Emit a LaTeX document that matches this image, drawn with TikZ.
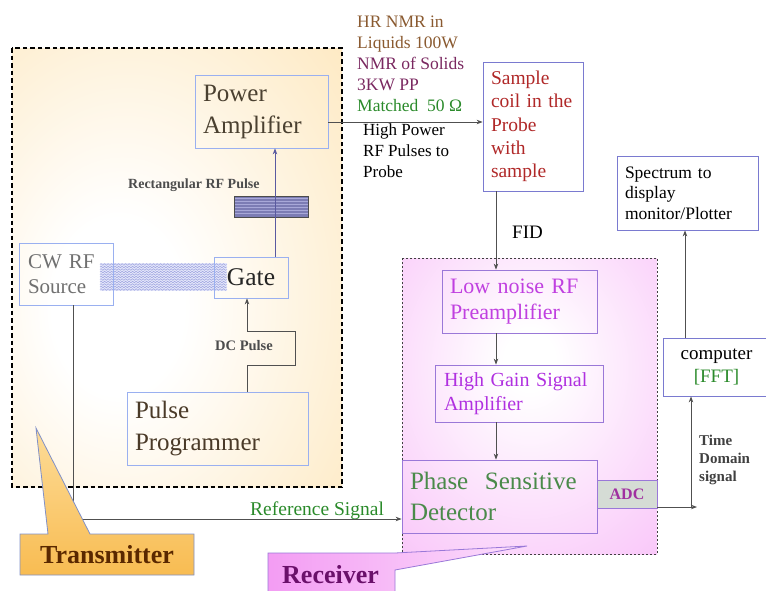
\documentclass[tikz,border=0pt]{standalone}
\usepackage{fontspec}
\setmainfont{Liberation Serif}
\usetikzlibrary{arrows.meta,decorations.pathmorphing,calc}

\definecolor{txorange}{HTML}{FDDFA6}
\definecolor{rxpink}{HTML}{F8BEF8}
\definecolor{bluebox}{HTML}{9AB0F0}
\definecolor{purplebox}{HTML}{9A78D8}
\definecolor{probebox}{HTML}{7A7AD0}
\definecolor{linegray}{HTML}{505050}
\definecolor{padark}{HTML}{4A4030}
\definecolor{cwgray}{HTML}{707070}
\definecolor{ppbrown}{HTML}{4A3A28}
\definecolor{notebrown}{HTML}{8A5A30}
\definecolor{notepurple}{HTML}{7A2860}
\definecolor{notegreen}{HTML}{2A8A2A}
\definecolor{samplered}{HTML}{B02828}
\definecolor{lnmag}{HTML}{C040E0}
\definecolor{hgmag}{HTML}{B030E0}
\definecolor{psdgreen}{HTML}{4A8A4A}
\definecolor{adcpurple}{HTML}{A030A0}
\definecolor{adcfill}{HTML}{D5DCD5}
\definecolor{txtext}{HTML}{5A2800}
\definecolor{rxtext}{HTML}{6A106A}
\definecolor{pulsefill}{HTML}{7C7CB4}
\definecolor{pulseline}{HTML}{A8A8D8}
\definecolor{wavecol}{HTML}{9CA2E0}
\definecolor{wavefill}{HTML}{E6E8FA}
\definecolor{gateline}{HTML}{5A5AA0}
\definecolor{calloutborder}{HTML}{8090C8}
\definecolor{txcalltop}{HTML}{FDDC98}
\definecolor{txcallbot}{HTML}{F8BC52}
\definecolor{rxcallleft}{HTML}{F39CF3}
\definecolor{rxcallright}{HTML}{FCE0FC}

\pgfdeclareradialshading{txshade}{\pgfpoint{-10bp}{-5bp}}{color(0bp)=(white); color(10bp)=(white); color(58bp)=(txorange); color(100bp)=(txorange)}
\pgfdeclareradialshading{rxshade}{\pgfpoint{0bp}{8bp}}{color(0bp)=(white); color(5bp)=(white); color(45bp)=(rxpink); color(100bp)=(rxpink)}

\newcommand\myfs[2]{\fontsize{#1}{#2}\selectfont}

\tikzset{
  box/.style={draw, line width=0.8pt, inner ysep=0pt, align=left},
  cbox/.style={draw, line width=0.8pt, inner sep=0pt, align=center},
  lbl/.style={inner sep=0pt, align=left},
  arr/.style={draw=linegray, line width=0.8pt, -{Stealth[length=6pt,width=4.5pt]}},
  wave/.style={draw=wavecol, line width=0.45pt, decorate, decoration={snake, amplitude=0.9pt, segment length=3.5pt}},
}

\begin{document}
\begin{tikzpicture}[x=1pt,y=-1pt]
\useasboundingbox (0,0) rectangle (766,590);

% regions
\path[shading=txshade] (12,48) rectangle (342,487);
\draw[line width=1.3pt, dash pattern=on 4.5pt off 3pt] (12,48) rectangle (342,487);
\path[shading=rxshade] (402,258) rectangle (657,554);
\draw[line width=0.6pt, draw=black!75, dash pattern=on 2pt off 2pt] (402,258) rectangle (657,554);

% wavy CW band
\fill[wavefill] (100,263) rectangle (227,291);
\foreach \yy in {264.5,267,...,290} {\draw[wave] (100,\yy) -- (227,\yy);}

% rectangular RF pulse
\fill[pulsefill] (234,196) rectangle (308,217);
\foreach \yy in {198.5,201.5,...,215} {\draw[pulseline, line width=0.6pt] (234,\yy) -- (308,\yy);}
\draw[black!70, line width=0.6pt] (234,196) rectangle (308,217);

% boxes
\node[box, draw=bluebox, minimum width=133pt, minimum height=73pt, text width=117pt, inner xsep=8pt, font=\myfs{25}{32}, text=padark] (PA) at (261.5,111.5) {Power\\Amplifier};
\node[box, draw=probebox, minimum width=100pt, minimum height=129pt, text width=84pt, inner xsep=8pt, font=\myfs{19.5}{23.3}, text=samplered] (Sample) at (533,126.5) {Sample\\coil in the\\Probe\\with\\sample};
\node[box, draw=bluebox, minimum width=94pt, minimum height=62pt, text width=76pt, inner xsep=9pt, font=\myfs{21}{25}, text=cwgray] (CW) at (66,274) {CW RF\\Source};
\node[cbox, draw=bluebox, minimum width=74pt, minimum height=41pt, font=\myfs{25.5}{30}, text=black!85] (Gate) at (251,277.5) {Gate};
\node[box, draw=bluebox, minimum width=181pt, minimum height=73pt, text width=165pt, inner xsep=8pt, font=\myfs{25}{32}, text=ppbrown] (PP) at (217.5,428.5) {Pulse\\Programmer};
\node[box, draw=purplebox, minimum width=155pt, minimum height=63pt, text width=139pt, inner xsep=8pt, font=\myfs{22}{26}, text=lnmag] (LN) at (519.5,301.5) {Low noise RF\\Preamplifier};
\node[box, draw=purplebox, minimum width=168pt, minimum height=57pt, text width=150pt, inner xsep=9pt, font=\myfs{20}{23.5}, text=hgmag] (HG) at (519,393.5) {High Gain Signal\\Amplifier};
\node[box, draw=purplebox, minimum width=195pt, minimum height=73pt, text width=179pt, inner xsep=8pt, font=\myfs{25}{31}, text=psdgreen] (PSD) at (499.5,496.5) {Phase\ \ Sensitive\\Detector};
\node[cbox, draw=purplebox, fill=adcfill, minimum width=60pt, minimum height=28pt, font=\bfseries\myfs{16}{18}, text=adcpurple] (ADC) at (627,494) {ADC};
\node[cbox, draw=probebox, minimum width=107pt, minimum height=58pt, font=\myfs{19}{23}] (Comp) at (716.5,367) {computer\\\textcolor{notegreen}{[FFT]}};
\node[box, draw=probebox, minimum width=141pt, minimum height=74pt, text width=125pt, inner xsep=8pt, font=\myfs{17.5}{20.5}] (Spec) at (687.5,193) {Spectrum to\\display\\monitor/Plotter};

% labels
\node[lbl, anchor=north west, font=\myfs{17.5}{21}] (notes) at (357,16.1) {\textcolor{notebrown}{HR NMR in}\\\textcolor{notebrown}{Liquids 100W}\\\textcolor{notepurple}{NMR of Solids}\\\textcolor{notepurple}{3KW PP}\\\textcolor{notegreen}{Matched\ \ 50 Ω}};
\node[lbl, anchor=north west, font=\myfs{17}{21}] (hp) at (363,123.5) {High Power\\RF Pulses to\\Probe};
\node[lbl, anchor=base west, font=\myfs{19}{22}] (fid) at (512,238) {FID};
\node[lbl, anchor=base west, font=\bfseries\myfs{14}{16}, text=black!70] (rect) at (128,188) {Rectangular RF Pulse};
\node[lbl, anchor=base west, font=\bfseries\myfs{14.5}{16}, text=black!70] (dc) at (215,350) {DC Pulse};
\node[lbl, anchor=base west, font=\myfs{19.5}{22}, text=notegreen] (ref) at (250,515) {Reference Signal};
\node[lbl, anchor=north west, font=\bfseries\myfs{15}{18}, text=black!75] (td) at (699,435) {Time\\Domain\\signal};

% connectors
\coordinate (colx) at (496,0);
\coordinate (gatex) at (275,0);
\coordinate (dcA) at (247,365);
\coordinate (dcB) at (295,365);
\coordinate (dcC) at (295,331);
\coordinate (dcD) at (247,331);
\coordinate (refc) at (73,519);
\coordinate (tdend) at (697,507);
\coordinate (tdj) at (691,507);
\coordinate (specx) at (685,0);

\draw[arr] (PA.east |- 0,122) -- (Sample.west |- 0,122);
\draw[arr] (Sample.south -| colx) -- (LN.north -| colx);
\draw[arr] (LN.south -| colx) -- (HG.north -| colx);
\draw[arr] (HG.south -| colx) -- (PSD.north -| colx);
\draw[arr, draw=gateline] (Gate.north -| gatex) -- (PA.south -| gatex);
\draw[arr] (PP.north -| dcA) -- (dcA) -- (dcB) -- (dcC) -- (dcD) -- (Gate.south -| dcD);
\draw[arr] (CW.south -| refc) -- (refc) -- (PSD.west |- refc);
\draw[arr] (ADC.east |- tdend) -- (tdend);
\draw[arr] (tdj) -- (Comp.south -| tdj);
\draw[arr] (Comp.north -| specx) -- (Spec.south -| specx);

% callouts
\draw[draw=calloutborder, line width=0.8pt, top color=txcalltop, bottom color=txcallbot]
  (20,534) -- (48,534) -- (36,428) -- (90,534) -- (194,534) -- (194,575) -- (20,575) -- cycle;
\node[lbl, anchor=base, font=\bfseries\myfs{26}{30}, text=txtext] (txlabel) at (107,563) {Transmitter};
\draw[draw=purplebox, line width=0.8pt, left color=rxcallleft, right color=rxcallright]
  (268,553) -- (395,553) -- (527,546) -- (395,570) -- (395,600) -- (268,600) -- cycle;
\node[lbl, anchor=base west, font=\bfseries\myfs{26}{30}, text=rxtext] (rxlabel) at (282,583) {Receiver};
\end{tikzpicture}
\end{document}
